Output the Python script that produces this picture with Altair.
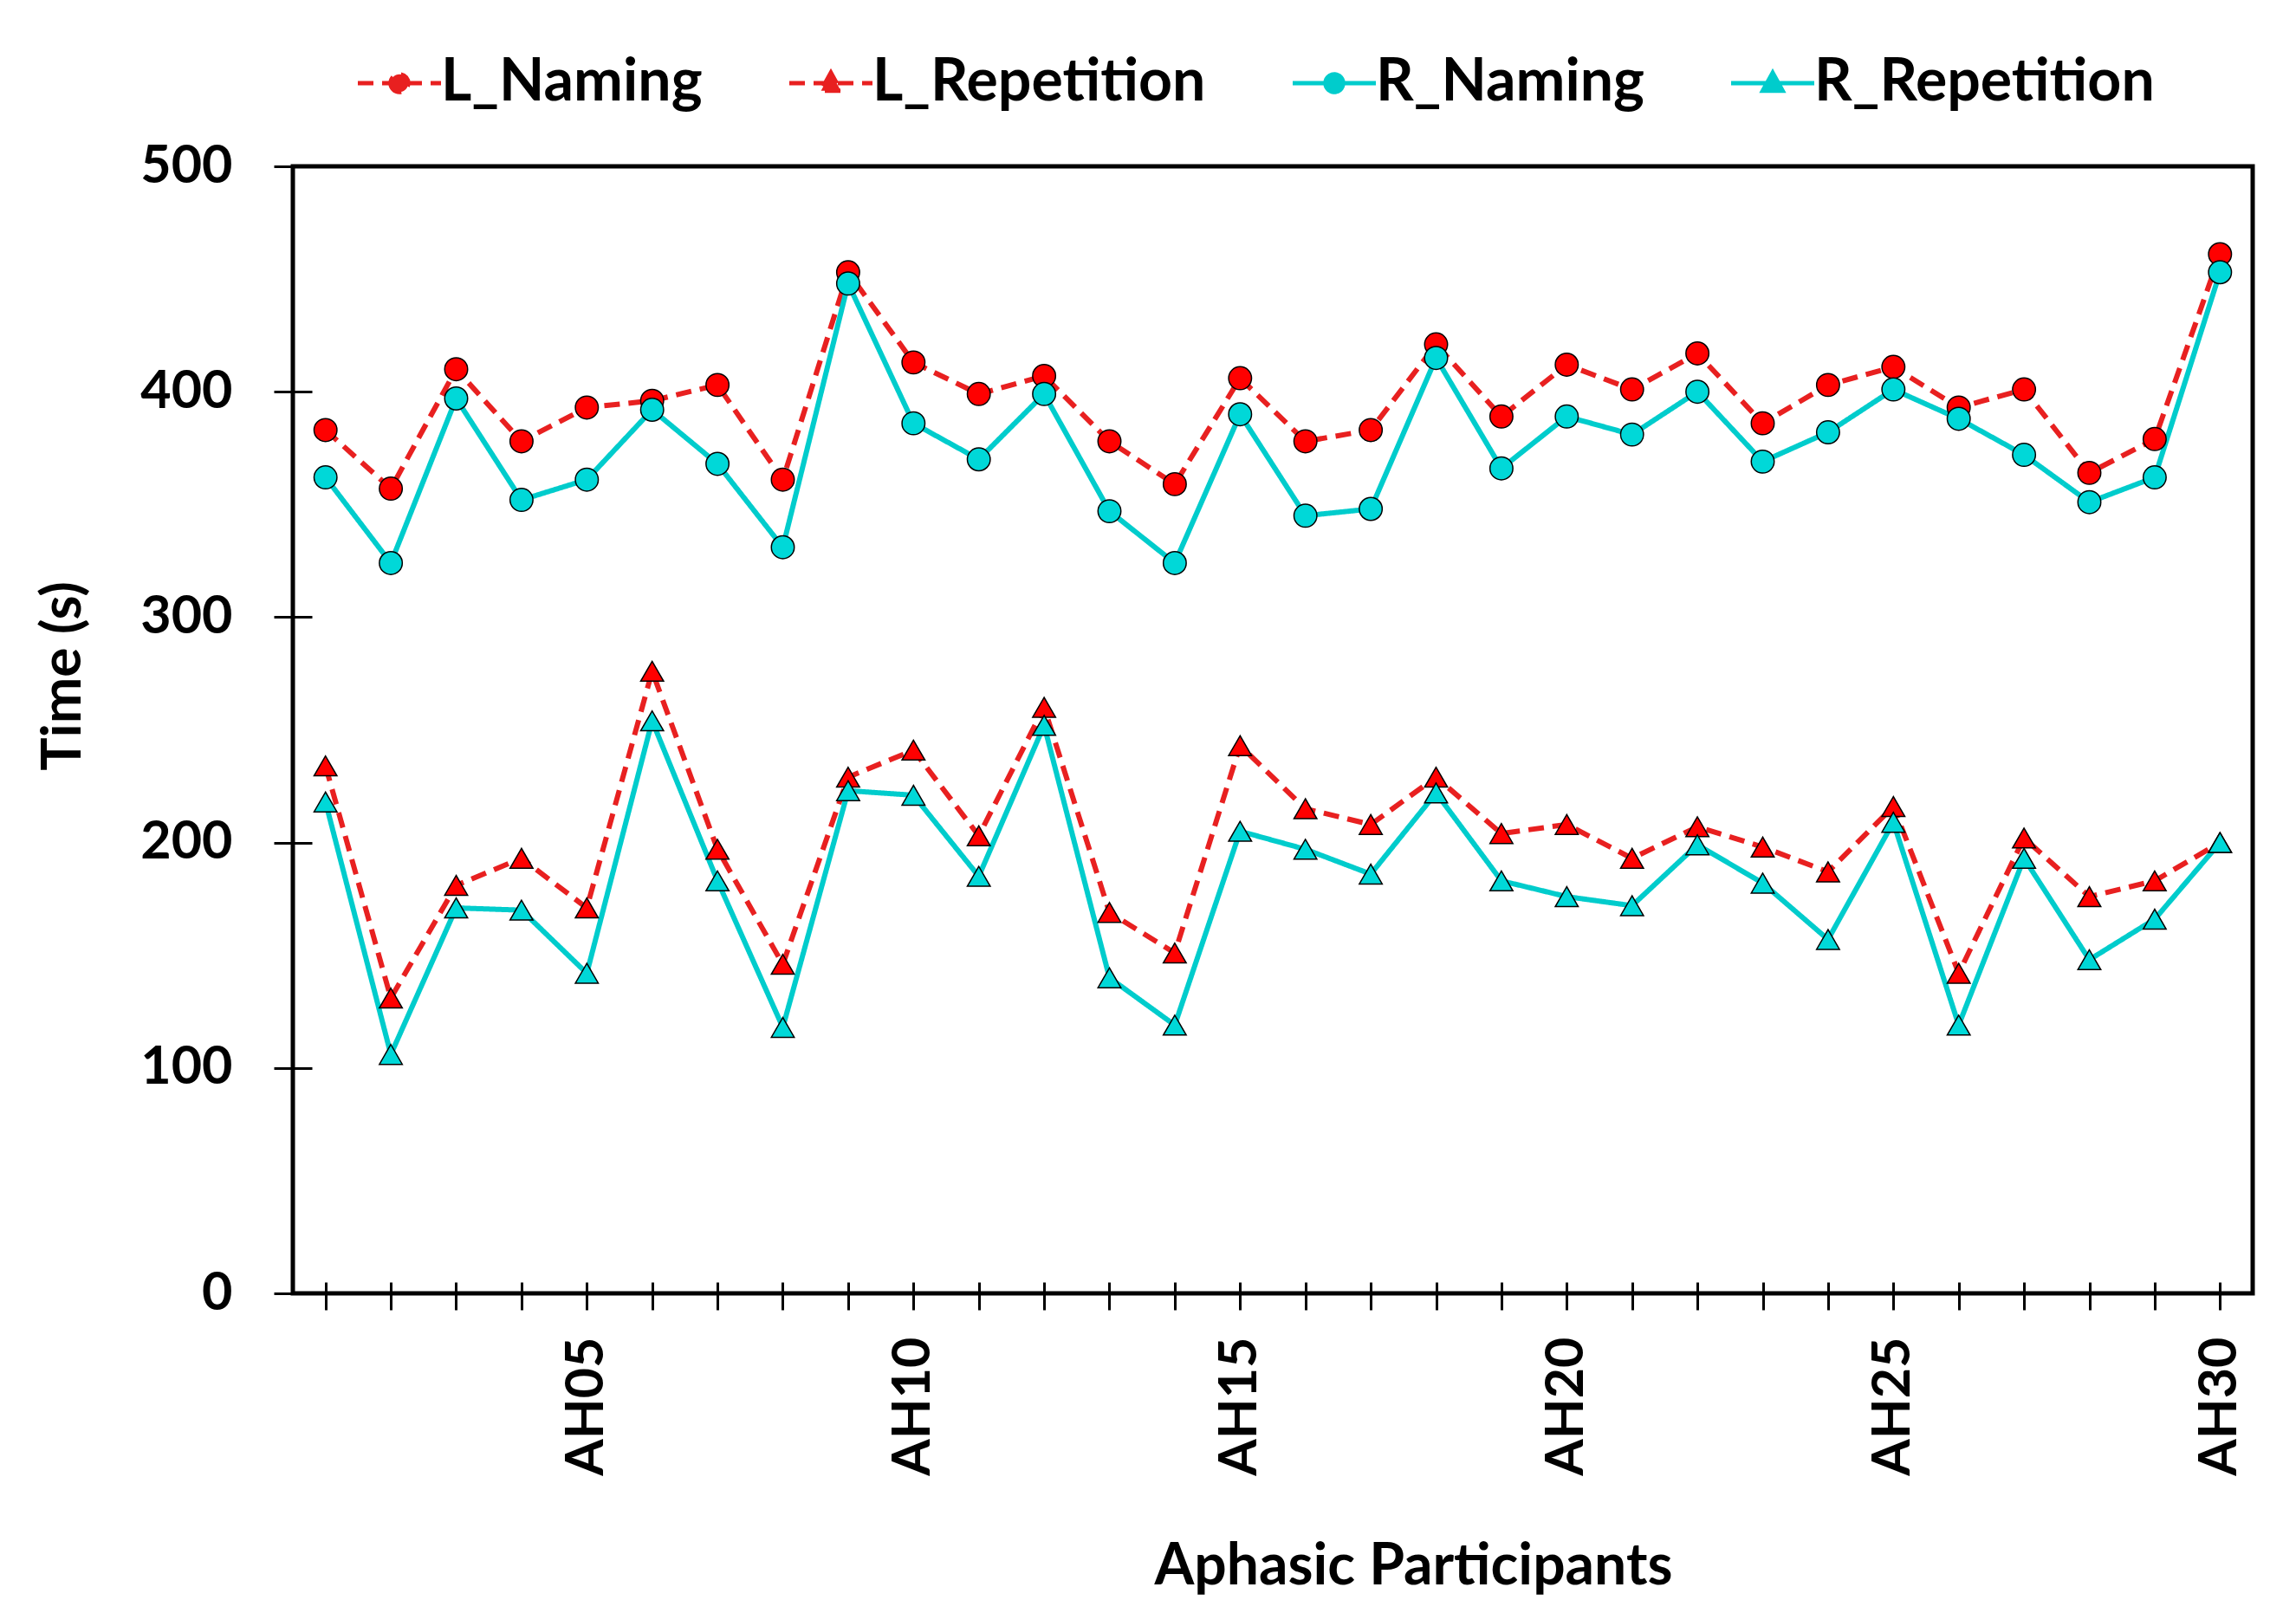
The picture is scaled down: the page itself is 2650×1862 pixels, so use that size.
import altair as alt
import pandas as pd

participants = ["AH01", "AH02", "AH03", "AH04", "AH05", "AH06", "AH07", "AH08", "AH09", "AH10",
                "AH11", "AH12", "AH13", "AH14", "AH15", "AH16", "AH17", "AH18", "AH19", "AH20",
                "AH21", "AH22", "AH23", "AH24", "AH25", "AH26", "AH27", "AH28", "AH29", "AH30"]
series_names = ["L_Naming", "L_Repetition", "R_Naming", "R_Repetition"]

l_naming = [383, 357, 410, 378, 393, 396, 403, 361, 453, 413, 399, 407, 378, 359, 406,
            378, 383, 421, 389, 412, 401, 417, 386, 403, 411, 393, 401, 364, 379, 461]
r_naming = [362, 324, 397, 352, 361, 392, 368, 331, 448, 386, 370, 399, 347, 324, 390,
            345, 348, 415, 366, 389, 381, 400, 369, 382, 401, 388, 372, 351, 362, 453]
l_repetition = [234, 131, 181, 193, 171, 276, 197, 146, 229, 241, 203, 260, 169, 151, 243,
                215, 208, 229, 204, 208, 193, 207, 198, 187, 216, 142, 202, 176, 183, 200]
r_repetition = [218, 106, 171, 170, 142, 254, 183, 118, 223, 221, 185, 252, 140, 119, 205,
                197, 186, 222, 183, 176, 172, 199, 182, 157, 209, 119, 193, 148, 166, 200]
y_ticks = [0, 100, 200, 300, 400, 500]

rows = []
for name, vals in zip(series_names, [l_naming, l_repetition, r_naming, r_repetition]):
    for p, v in zip(participants, vals):
        rows.append({"Participant": p, "Series": name, "Time": v})
df = pd.DataFrame(rows)

FONT = "Lato"
line_colors = ["#E82020", "#E82020", "#00CCCC", "#00CCCC"]
marker_colors = ["#FF0000", "#FF0000", "#00D8D8", "#00D8D8"]
dashes = [[18, 10], [18, 10], [1, 0], [1, 0]]
shapes = ["circle", "triangle-up", "circle", "triangle-up"]

# legend symbol = line segment + marker (custom SVG paths in [-1, 1] units)
circle_sym = "M-4,0H4M-0.85,0A0.85,0.85 0 1,0 0.85,0A0.85,0.85 0 1,0 -0.85,0Z"
triangle_sym = "M-4,0H4M0,-1L-0.95,0.72L0.95,0.72Z"
symbol_expr = ("indexof(datum.value, 'Naming') >= 0 ? '" + circle_sym + "' : '" + triangle_sym + "'")

legend_lines = alt.Legend(
    orient="none", legendX=89, legendY=-130, direction="horizontal", columns=4,
    title=None, symbolSize=576, symbolStrokeWidth=5,
    symbolType={"expr": symbol_expr},
    symbolFillColor={"expr": "scale('stroke', datum.value)"},
    labelFont=FONT, labelFontSize=68, labelFontWeight="bold", labelColor="black",
    labelOffset=14, columnPadding=90, padding=0, labelLimit=1000, symbolOffset=0,
)

x_scale = alt.Scale(padding=0.5)
y_scale = alt.Scale(domain=[0, 500], nice=False, zero=True)

x_axis = alt.Axis(
    orient="bottom", labelAngle=270,
    labelExpr="(toNumber(substring(datum.value, 2)) % 5 == 0) ? datum.value : ''",
    labelFont=FONT, labelFontSize=61, labelFontWeight="bold", labelColor="black",
    labelPadding=31, labelLimit=500, labelOverlap=False,
    tickSize=19, tickWidth=3, tickColor="black", domain=False, grid=False,
    title="Aphasic Participants", titleFont=FONT, titleFontSize=66,
    titleFontWeight="bold", titleColor="black", titleX=1293, titleY=335,
    titleAlign="center", titleBaseline="alphabetic", titleAngle=0,
)
y_axis = alt.Axis(
    orient="left", values=y_ticks,
    labelFont=FONT, labelFontSize=61, labelFontWeight="bold", labelColor="black",
    labelPadding=48, tickSize=22, tickWidth=3, tickColor="black",
    domain=False, grid=False,
    title="Time (s)", titleFont=FONT, titleFontSize=64, titleFontWeight="bold",
    titleColor="black", titleX=-246, titleY=588, titleAngle=270,
    titleAlign="center", titleBaseline="alphabetic",
)
x_inner = alt.Axis(orient="bottom", offset=-13, tickSize=13, tickWidth=3,
                   tickColor="black", labels=False, domain=False, grid=False, title=None)
y_inner = alt.Axis(orient="left", offset=-22, tickSize=22, tickWidth=3, values=y_ticks,
                   tickColor="black", labels=False, domain=False, grid=False, title=None)

lines = alt.Chart(df).mark_line(strokeWidth=6).encode(
    x=alt.X("Participant:N", sort=participants, scale=x_scale, axis=x_axis),
    y=alt.Y("Time:Q", scale=y_scale, axis=y_axis),
    stroke=alt.Stroke("Series:N", scale=alt.Scale(range=line_colors), legend=legend_lines),
    strokeDash=alt.StrokeDash("Series:N", scale=alt.Scale(range=dashes), legend=legend_lines),
)

points = alt.Chart(df).transform_calculate(Key="datum.Series").mark_point(
    filled=True, size=700, stroke="black", strokeWidth=1.5, opacity=1
).encode(
    x=alt.X("Participant:N", sort=participants, axis=x_inner),
    y=alt.Y("Time:Q", axis=y_inner),
    fill=alt.Fill("Key:N", scale=alt.Scale(range=marker_colors), legend=None),
    shape=alt.Shape("Key:N", scale=alt.Scale(range=shapes), legend=None),
)

chart = alt.layer(lines, points).resolve_axis(
    x="independent", y="independent"
).properties(
    width=2262, height=1301,
    autosize=alt.AutoSizeParams(type="none"),
    padding={"left": 330, "top": 184, "right": 30, "bottom": 360},
    background="white",
).configure_view(stroke="black", strokeWidth=5)

chart.save("out.html", embed_options={"renderer": "svg", "actions": False})
